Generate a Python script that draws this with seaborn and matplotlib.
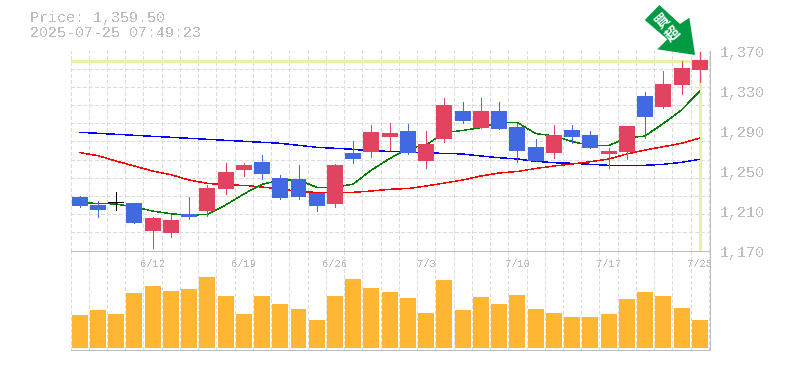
import numpy as np
import pandas as pd
import seaborn as sns
import matplotlib.pyplot as plt
from matplotlib.patches import Polygon
from matplotlib.transforms import Affine2D, ScaledTranslation

dates = ['6/12', '6/19', '6/26', '7/3', '7/10', '7/17', '7/25']
date_pos = [4, 9, 14, 19, 24, 29, 34]
price_ticks = [1170, 1210, 1250, 1290, 1330, 1370]

opens = [1223.5, 1215.5, 1217.5, 1217.5, 1189.5, 1187.5, 1206.5, 1209.5, 1231.5, 1250.5, 1258.5, 1242.5,
         1241.5, 1227.5, 1216.5, 1267.5, 1268.5, 1283.5, 1289.5, 1259.5, 1281.5, 1309.5, 1292.5, 1309.5,
         1293.5, 1273.5, 1267.5, 1290.5, 1285.5, 1266.5, 1268.5, 1324.5, 1313.5, 1335.5, 1350.5]
closes = [1214.5, 1210.5, 1217.5, 1197.5, 1202.5, 1200.5, 1203.5, 1232.5, 1248.5, 1255.5, 1246.5, 1222.5,
          1223.5, 1214.5, 1255.5, 1261.5, 1288.5, 1287.5, 1267.5, 1276.5, 1315.5, 1299.5, 1309.5, 1291.5,
          1269.5, 1259.5, 1285.5, 1283.5, 1272.5, 1269.5, 1294.5, 1303.5, 1336.5, 1352.5, 1360.5]
highs = [1224.5, 1219.5, 1228.5, 1217.5, 1203.5, 1205.5, 1223.5, 1235.5, 1257.5, 1257.5, 1265.5, 1245.5,
         1255.5, 1227.5, 1256.5, 1279.5, 1295.5, 1297.5, 1296.5, 1289.5, 1322.5, 1318.5, 1322.5, 1318.5,
         1296.5, 1281.5, 1295.5, 1295.5, 1289.5, 1272.5, 1294.5, 1328.5, 1349.5, 1359.5, 1368.5]
lows = [1213.5, 1203.5, 1210.5, 1197.5, 1172.5, 1183.5, 1201.5, 1204.5, 1226.5, 1244.5, 1241.5, 1221.5,
        1221.5, 1209.5, 1213.5, 1257.5, 1263.5, 1270.5, 1266.5, 1252.5, 1278.5, 1297.5, 1292.5, 1291.5,
        1258.5, 1259.5, 1262.5, 1277.5, 1272.5, 1252.5, 1261.5, 1282.5, 1312.5, 1326.5, 1338.5]

ma_short = [1217.5, 1217.2, 1216.5, 1213.5, 1209.5, 1206.8, 1205.2, 1206.2, 1215.5, 1226.5, 1236.2, 1240.2,
            1240.5, 1233.2, 1233.0, 1236.5, 1250.5, 1262.0, 1272.0, 1275.5, 1288.0, 1290.0, 1293.0, 1298.0,
            1298.0, 1287.0, 1284.5, 1279.0, 1275.0, 1275.0, 1282.5, 1284.5, 1297.0, 1310.5, 1329.5]
ma_mid = [1268.0, 1264.8, 1259.5, 1254.5, 1249.5, 1245.8, 1240.5, 1237.2, 1235.5, 1235.2, 1233.5, 1231.5,
          1229.2, 1228.0, 1227.5, 1228.2, 1229.5, 1231.2, 1232.0, 1234.5, 1237.5, 1240.5, 1244.5, 1247.5,
          1249.0, 1252.0, 1254.5, 1256.5, 1258.8, 1261.5, 1266.5, 1270.5, 1273.8, 1277.2, 1282.5]
ma_long = [1288.2, 1287.2, 1286.2, 1285.2, 1284.2, 1283.2, 1282.2, 1281.2, 1280.2, 1279.2, 1278.2, 1277.2,
           1275.2, 1273.2, 1272.2, 1271.2, 1269.5, 1269.2, 1268.8, 1267.5, 1267.2, 1266.5, 1264.5, 1262.8,
           1261.5, 1259.2, 1257.8, 1257.2, 1256.2, 1255.2, 1255.2, 1255.2, 1256.2, 1258.2, 1261.2]

volumes = [33, 38, 34, 55, 62, 57, 59, 71, 52, 34, 52, 44, 39, 28, 52, 69, 60, 56,
           50, 35, 68, 38, 51, 44, 53, 39, 35, 31, 31, 34, 49, 56, 52, 40, 28]

last_price = 1360
GREY = '#bdbdbd'
GRID = '#dcdcdc'
HILITE = '#e4f3a8'
UP = '#e14361'
DOWN = '#4169e1'
ONE_PX = 0.72

sns.set_style('white')
plt.rcParams['font.family'] = ['Liberation Mono', 'DejaVu Sans Mono']
plt.rcParams['text.antialiased'] = False
plt.rcParams['lines.antialiased'] = False
plt.rcParams['patch.antialiased'] = False

df = pd.DataFrame({'i': range(len(opens)), 'open': opens, 'close': closes, 'high': highs, 'low': lows,
                   'ma_short': ma_short, 'ma_mid': ma_mid, 'ma_long': ma_long, 'volume': volumes})

W, H = 785, 370
fig = plt.figure(figsize=(W / 100, H / 100), dpi=100)
left, right = 70.5 / W, 710.0 / W
ax_vol = fig.add_axes([left, (H - 350) / H, right - left, 99.5 / H], zorder=1)
ax = fig.add_axes([left, (H - 250.5) / H, right - left, 200 / H], zorder=2)
ax.patch.set_alpha(0)
ax_vol.patch.set_alpha(0)

xlim = (-0.5, 34.56)
slots = np.arange(len(df) + 1) - 0.5

# volume panel
sns.barplot(data=df, x='i', y='volume', native_scale=True, color='#ffb733', saturation=1,
            width=0.875, linewidth=0, ax=ax_vol, zorder=3)
ax_vol.set_xlim(xlim)
ax_vol.set_ylim(-2, 97.5)
ax_vol.set_xticks(slots, minor=True)
ax_vol.set_xticks([])
ax_vol.set_yticks([])
ax_vol.set_xlabel('')
ax_vol.set_ylabel('')
ax_vol.grid(which='minor', axis='x', color=GRID, lw=ONE_PX, ls=(0, (3, 2.6)), zorder=0)
ax_vol.set_axisbelow(True)
ax_vol.tick_params(which='both', length=0)

# price panel grid
ax.set_xlim(xlim)
ax.set_ylim(1170, 1370)
ax.set_xticks(slots, minor=True)
ax.set_yticks(np.linspace(1170, 1370, 12), minor=True)
ax.grid(which='minor', color=GRID, lw=ONE_PX, ls=(0, (3, 2.6)), zorder=0)
ax.set_axisbelow(True)

# current price cross
ax.axhline(last_price, color=HILITE, lw=1.9, zorder=1)
ax.axvline(df['i'].iloc[-1], color=HILITE, lw=1.9, ymax=0.99, zorder=1)

# moving averages, agg rounds non-aa widths so keep it under one pixel
for col, c in [('ma_long', '#0000ff'), ('ma_mid', '#ff0000'), ('ma_short', '#008000')]:
    sns.lineplot(data=df, x='i', y=col, color=c, ax=ax, legend=False, zorder=2)
    line = ax.lines[-1]
    line.set_linewidth(0.3)
    line.set_antialiased(False)

# candles
for row in df.itertuples():
    if row.close > row.open:
        c = UP
    elif row.close < row.open:
        c = DOWN
    else:
        c = 'black'
    ax.vlines(row.i, row.low, row.high, color=c, lw=ONE_PX, zorder=3)
    body = max(abs(row.close - row.open), 1)
    ax.bar(row.i, body, bottom=min(row.open, row.close), width=0.875, color=c, linewidth=0, zorder=4)

ax.set_xlabel('')
ax.set_ylabel('')
ax.set_xticks(date_pos)
ax.set_xticklabels(dates, fontsize=7.6, color=GREY)
ax.set_yticks(price_ticks)
ax.set_yticklabels([f'{v:,}' for v in price_ticks], fontsize=10.8, color=GREY, va='center')
ax.yaxis.tick_right()
ax.tick_params(axis='x', which='major', length=0, pad=6)
ax.tick_params(axis='y', which='major', length=0, pad=7)
ax.tick_params(which='minor', length=0)
shift = ScaledTranslation(0, -3 / 100, fig.dpi_scale_trans)
for lbl in ax.get_yticklabels():
    lbl.set_transform(lbl.get_transform() + shift)

for a in (ax, ax_vol):
    sns.despine(ax=a, top=True, left=True, right=False, bottom=False)
    for s in ('right', 'bottom'):
        a.spines[s].set_color(GREY)
        a.spines[s].set_linewidth(ONE_PX)

fig.text(30 / W, 1 - 18 / H, 'Price: 1,359.50', color=GREY, fontsize=10.8, va='center')
fig.text(30 / W, 1 - 33 / H, '2025-07-25 07:49:23', color=GREY, fontsize=10.8, va='center')

# arrow pointing at the last candle, outline in pixels relative to its tip
tip = (33.74, 1365.5)
arrow_outline = [(-35.7, 50), (-15, 31), (-5.7, 37.3), (0, 0), (-37.7, 5.7), (-27.7, 15.7), (-50.3, 35)]
to_tip = Affine2D().scale(1 / 100) + fig.dpi_scale_trans + ScaledTranslation(tip[0], tip[1], ax.transData)
ax.add_patch(Polygon(arrow_outline, closed=True, facecolor='#009a44', edgecolor='none', transform=to_tip,
                     clip_on=False, antialiased=True, zorder=6))
for ch, off in [('買', (-33.3, 35)), ('超', (-22.3, 22))]:
    ax.annotate(ch, xy=tip, xytext=off, textcoords='offset pixels', annotation_clip=False,
                color='white', fontsize=10.5, fontweight='bold', family=['Noto Sans CJK JP', 'DejaVu Sans'],
                rotation=40, rotation_mode='anchor', ha='center', va='center',
                antialiased=True, zorder=7)

fig.savefig('out.png', dpi=100)
